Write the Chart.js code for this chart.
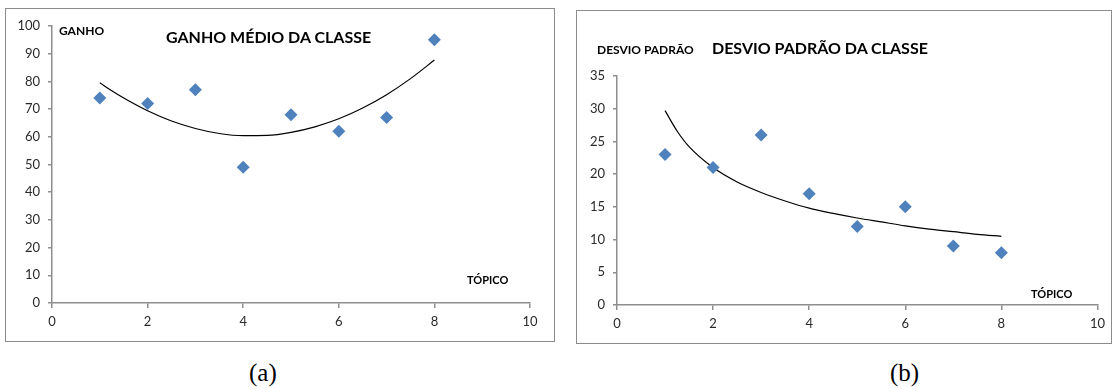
<!DOCTYPE html>
<html>
<head>
<meta charset="utf-8">
<script src="https://cdn.jsdelivr.net/npm/chart.js@4.4.1/dist/chart.umd.min.js"></script>
<style>
body { margin: 0; background: #fff; width: 1117px; height: 389px; position: relative; overflow: hidden; font-family: Lato, sans-serif; }
.box { position: absolute; border: 1px solid #8c8c8c; background: #fff; }
.box canvas { position: absolute; left: 0; top: 0; }
.lbl { position: absolute; font-weight: bold; color: #000; white-space: nowrap; line-height: 1; z-index: 2; }
.cap { position: absolute; font-family: "Liberation Serif", "Times New Roman", serif; font-size: 25px; line-height: 1; }
</style>
</head>
<body>
<div class="box" style="left:5px;top:8px;width:548px;height:332px"><canvas id="ganho" width="548" height="332"></canvas></div>
<div class="box" style="left:576px;top:10px;width:534px;height:332px"><canvas id="desvio" width="534" height="332"></canvas></div>

<div class="lbl" style="left:59px;top:25px;font-size:12px">GANHO</div>
<div class="lbl" style="left:166px;top:29px;font-size:16px">GANHO MÉDIO DA CLASSE</div>
<div class="lbl" style="left:467px;top:274px;font-size:11px">TÓPICO</div>

<div class="lbl" style="left:597px;top:44px;font-size:12px">DESVIO PADRÃO</div>
<div class="lbl" style="left:712px;top:40px;font-size:16px">DESVIO PADRÃO DA CLASSE</div>
<div class="lbl" style="left:1031px;top:288px;font-size:11px">TÓPICO</div>

<div class="cap" style="left:249px;top:360px">(a)</div>
<div class="cap" style="left:890px;top:360px">(b)</div>

<script>
// dados
const topicos = [1, 2, 3, 4, 5, 6, 7, 8];
const ganhoMedio = [74, 72, 77, 49, 68, 62, 67, 95];
const desvioPadrao = [23, 21, 26, 17, 12, 15, 9, 8];

// linhas de tendência
const tendX = [1, 1.25, 1.5, 2, 2.5, 3, 3.5, 4, 4.5, 5, 5.5, 6, 6.5, 7, 7.5, 8];
const tendGanho = [79.5, 76.6, 74.0, 69.4, 65.7, 63.0, 61.2, 60.4, 60.5, 61.6, 63.6, 66.5, 70.4, 75.2, 81.0, 87.7];
const tendDesvio = [29.7, 26.6, 24.2, 21.0, 18.8, 17.2, 15.9, 14.8, 14.0, 13.3, 12.7, 12.1, 11.6, 11.2, 10.8, 10.5];

const ticksX = [0, 2, 4, 6, 8, 10];

Chart.defaults.font.family = 'Lato, sans-serif';
Chart.defaults.font.size = 13;
Chart.defaults.color = '#2a2a2a';

const azul = '#4f81bd';
const eixo = '#8e8e8e';

function pares(xs, ys) {
    return xs.map((x, i) => ({ x: x, y: ys[i] }));
}

function criarGrafico(id, valores, tendencia, yMax, yStep, pad) {
    return new Chart(document.getElementById(id), {
        type: 'scatter',
        data: {
            datasets: [
                {
                    data: pares(topicos, valores),
                    pointStyle: 'rectRot',
                    pointRadius: 6.5,
                    pointBackgroundColor: azul,
                    pointBorderColor: azul,
                    pointBorderWidth: 0
                },
                {
                    data: pares(tendX, tendencia),
                    showLine: true,
                    borderColor: '#000',
                    borderWidth: 1.2,
                    pointRadius: 0,
                    cubicInterpolationMode: 'monotone'
                }
            ]
        },
        options: {
            responsive: false,
            animation: false,
            events: [],
            layout: { padding: pad },
            plugins: { legend: { display: false }, tooltip: { enabled: false } },
            scales: {
                x: {
                    type: 'linear',
                    min: 0,
                    max: 10,
                    afterBuildTicks: s => { s.ticks = ticksX.map(v => ({ value: v })); },
                    border: { color: eixo, width: 1.5 },
                    grid: { drawOnChartArea: false, color: eixo, tickLength: 5, lineWidth: 1.5 },
                    ticks: { padding: 6, maxRotation: 0 },
                    afterFit: s => { s.height = 28; }
                },
                y: {
                    min: 0,
                    max: yMax,
                    ticks: { stepSize: yStep, padding: 8 },
                    border: { color: eixo, width: 1.5 },
                    grid: { drawOnChartArea: false, color: eixo, tickLength: 4, lineWidth: 1.5 },
                    afterFit: s => { s.width = 38; }
                }
            }
        }
    });
}

criarGrafico('ganho', ganhoMedio, tendGanho, 100, 10, { top: 17, right: 24, bottom: 10, left: 8 });
criarGrafico('desvio', desvioPadrao, tendDesvio, 35, 5, { top: 65, right: 3, bottom: 10, left: 2 });
</script>
</body>
</html>
